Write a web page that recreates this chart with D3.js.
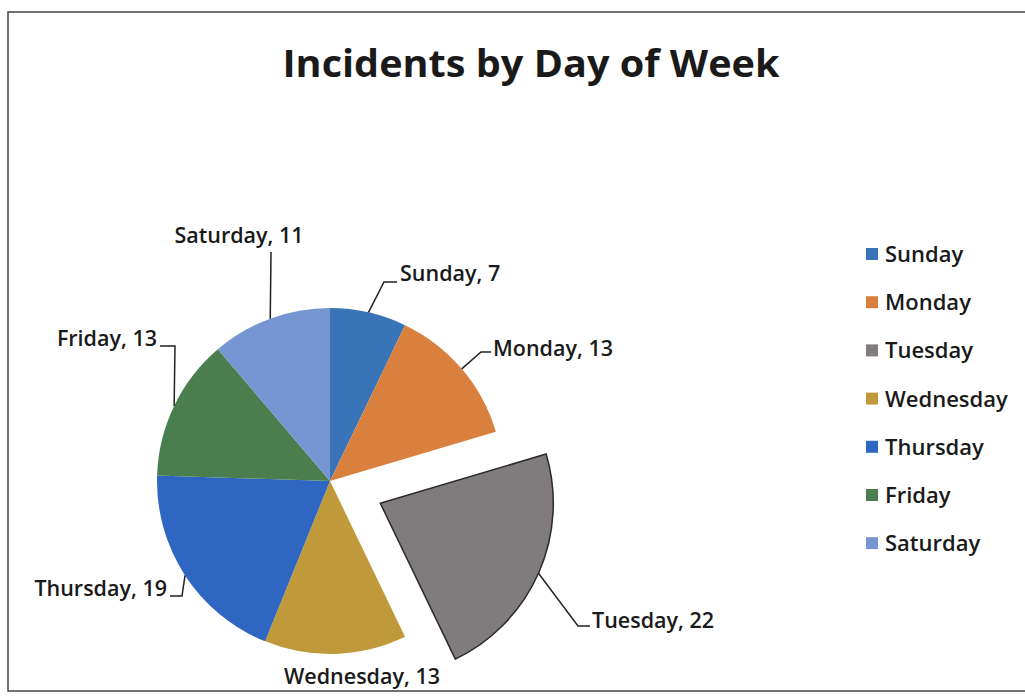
<!DOCTYPE html>
<html>
<head>
<meta charset="utf-8">
<script src="https://cdn.jsdelivr.net/npm/d3@7"></script>
<style>
  body { margin: 0; background: #fff; }
  text { font-family: "Open Sans", Lato, sans-serif; fill: #1a1a1a; }
</style>
</head>
<body>
<div id="chart"></div>
<script>
// data
let days = ["Sunday", "Monday", "Tuesday", "Wednesday", "Thursday", "Friday", "Saturday"];
let counts = [7, 13, 22, 13, 19, 13, 11];
let colors = ["#3a74b8", "#d9803e", "#807b7d", "#c09a3a", "#2f66c2", "#4a7e4e", "#7596d2"];
let explodedDay = "Tuesday";

// label placement (excel-like outside labels)
let labelLayout = {
  Sunday:    {tx: 400, ty: 281, anchor: "start",  elbow: [384, 282], end: [397, 282]},
  Monday:    {tx: 493, ty: 356, anchor: "start",  elbow: [481, 352], end: [491, 352]},
  Tuesday:   {tx: 592, ty: 628, anchor: "start",  elbow: [578, 626], end: [590, 626]},
  Wednesday: {tx: 362, ty: 684, anchor: "middle", elbow: null, end: null},
  Thursday:  {tx: 167, ty: 596, anchor: "end",    elbow: [182, 596], end: [170, 596]},
  Friday:    {tx: 157, ty: 346, anchor: "end",    elbow: [175, 346], end: [160, 346]},
  Saturday:  {tx: 239, ty: 243, anchor: "middle", elbow: [271, 252], end: [271, 252]}
};

let W = 1025, H = 696;
let cx = 330, cy = 481, radius = 173, explode = 55;

let svg = d3.select("#chart")
  .append("svg")
    .attr("width", W)
    .attr("height", H);

// frame
svg.append("rect")
  .attr("x", 8).attr("y", 12)
  .attr("width", 1030).attr("height", 679)
  .attr("fill", "none")
  .attr("stroke", "#444")
  .attr("stroke-width", 1.5);

// title
svg.append("text")
  .attr("x", 531)
  .attr("y", 77)
  .attr("text-anchor", "middle")
  .attr("font-family", "Lato, sans-serif")
  .attr("font-size", 38)
  .attr("font-weight", 700)
  .attr("textLength", 497)
  .attr("lengthAdjust", "spacingAndGlyphs")
  .text("Incidents by Day of Week");

let data = days.map((d, i) => ({day: d, value: counts[i]}));

let color = d3.scaleOrdinal()
  .domain(days)
  .range(colors);

let pie = d3.pie()
  .value(d => d.value)
  .sort(null);

let arc = d3.arc().innerRadius(0).outerRadius(radius);
let edgeArc = d3.arc().innerRadius(radius).outerRadius(radius);

let arcs = pie(data);

function offset(d) {
  if (d.data.day !== explodedDay) return [0, 0];
  let mid = (d.startAngle + d.endAngle) / 2;
  return [Math.sin(mid) * explode, -Math.cos(mid) * explode];
}

let g = svg.append("g")
  .attr("transform", "translate(" + cx + "," + cy + ")");

g.selectAll("path.slice")
  .data(arcs)
  .enter().append("path")
    .attr("class", "slice")
    .attr("transform", d => "translate(" + offset(d) + ")")
    .attr("d", arc)
    .attr("fill", d => color(d.data.day))
    .attr("stroke", d => d.data.day === explodedDay ? "#2b2b2b" : "none")
    .attr("stroke-width", 1.5);

// leader lines
g.selectAll("path.leader")
  .data(arcs.filter(d => labelLayout[d.data.day].elbow))
  .enter().append("path")
    .attr("class", "leader")
    .attr("fill", "none")
    .attr("stroke", "#222")
    .attr("stroke-width", 1.5)
    .attr("d", function(d) {
      let o = offset(d);
      let p = edgeArc.centroid(d);
      let L = labelLayout[d.data.day];
      return "M" + (p[0] + o[0]) + "," + (p[1] + o[1]) +
        "L" + (L.elbow[0] - cx) + "," + (L.elbow[1] - cy) +
        "L" + (L.end[0] - cx) + "," + (L.end[1] - cy);
    });

// data labels
svg.selectAll("text.lbl")
  .data(arcs)
  .enter().append("text")
    .attr("class", "lbl")
    .attr("x", d => labelLayout[d.data.day].tx)
    .attr("y", d => labelLayout[d.data.day].ty)
    .attr("text-anchor", d => labelLayout[d.data.day].anchor)
    .attr("font-size", 21.5)
    .attr("font-weight", 600)
    .text(d => d.data.day + ", " + d.data.value);

// legend
let legend = svg.append("g")
  .attr("transform", "translate(866,254)");

let row = legend.selectAll("g")
  .data(days)
  .enter().append("g")
    .attr("transform", (d, i) => "translate(0," + (i * 48.2) + ")");

row.append("rect")
  .attr("x", 0).attr("y", -6)
  .attr("width", 12).attr("height", 12)
  .attr("fill", d => color(d));

row.append("text")
  .attr("x", 19)
  .attr("y", 8)
  .attr("font-size", 22)
  .attr("font-weight", 600)
  .text(d => d);
</script>
</body>
</html>
